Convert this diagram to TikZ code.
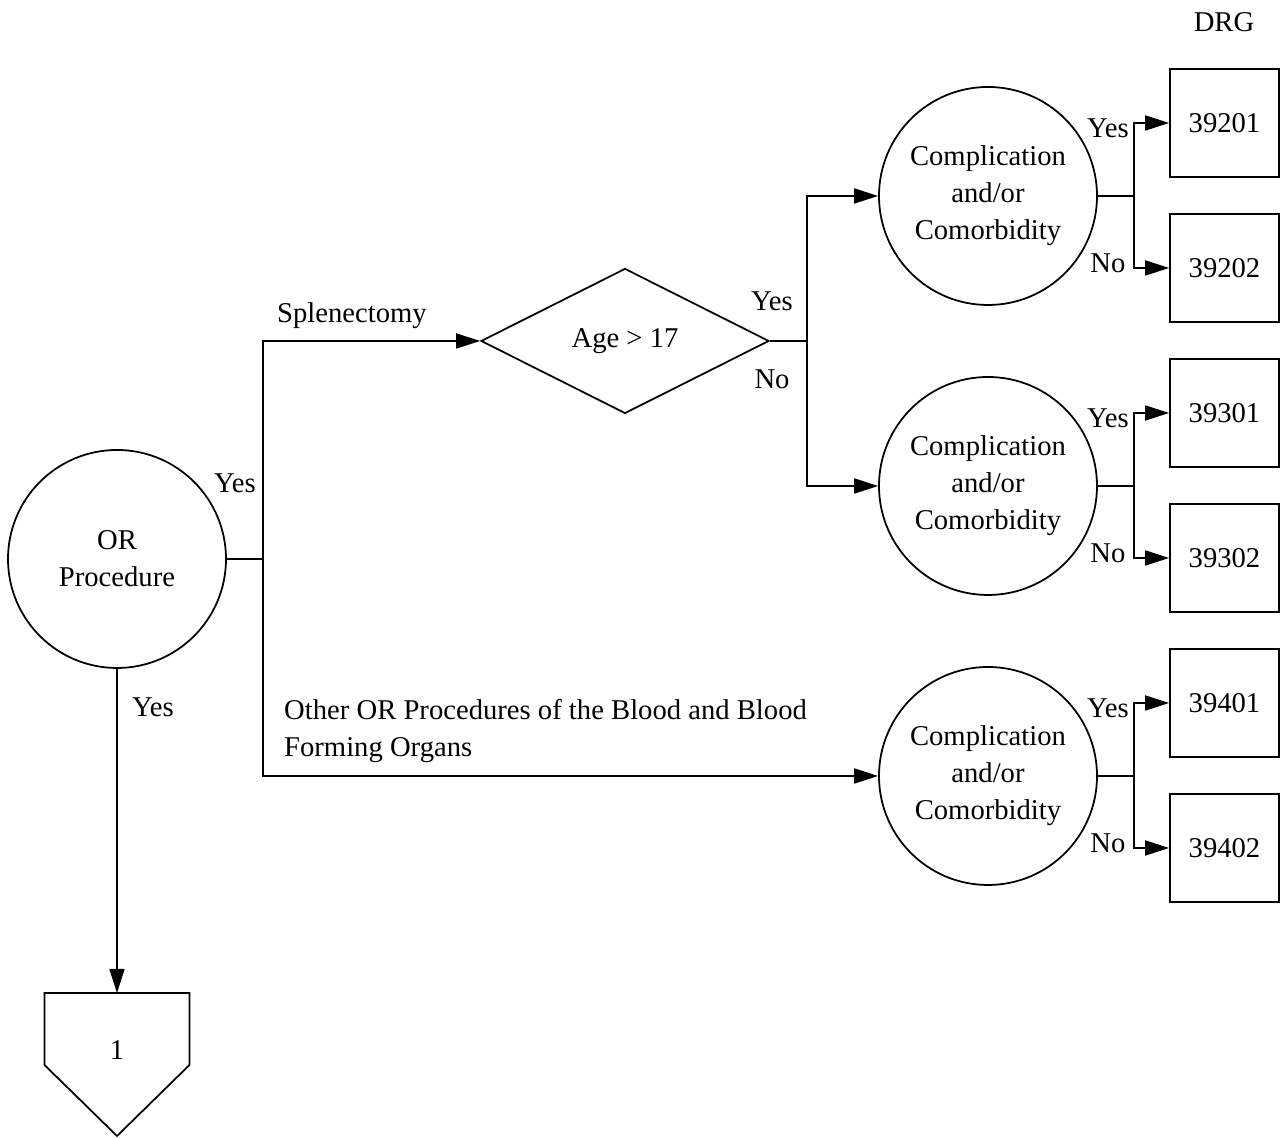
\documentclass[tikz,border=0pt]{standalone}
\usepackage{fontspec}
\setmainfont{Liberation Serif}
\usetikzlibrary{arrows.meta,positioning,shapes.geometric}

\begin{document}
\begin{tikzpicture}[
  font=\fontsize{16.3}{21}\selectfont,
  test/.style={draw, circle, line width=1pt, align=center, minimum size=4.36cm, inner sep=0pt},
  age/.style={draw, diamond, line width=1pt, minimum width=5.76cm, minimum height=2.9cm, inner sep=0pt},
  drg/.style={draw, line width=1pt, minimum width=2.18cm, minimum height=2.16cm},
  line/.style={line width=1pt},
  arrow/.style={-{Triangle[length=0.48cm, width=0.3cm]}, line width=1pt}
]
\useasboundingbox (0,0) rectangle (25.74,22.76);

\node[test] (or) at (2.34,11.58) {OR\\Procedure};
\node[age] (age) at (12.5,15.94) {Age > 17};
\node[test] (cc1) at (19.76,18.84) {Complication\\and/or\\Comorbidity};
\node[test] (cc2) at (19.76,13.04) {Complication\\and/or\\Comorbidity};
\node[test] (cc3) at (19.76,7.24) {Complication\\and/or\\Comorbidity};

\node[drg] (d39201) at (24.49,20.3) {39201};
\node[drg] (d39202) at (24.49,17.4) {39202};
\node[drg] (d39301) at (24.49,14.5) {39301};
\node[drg] (d39302) at (24.49,11.6) {39302};
\node[drg] (d39401) at (24.49,8.7) {39401};
\node[drg] (d39402) at (24.49,5.8) {39402};
\node (drg) at (24.48,22.32) {DRG};

\coordinate (j0) at ([xshift=0.72cm]or.east);
\coordinate (j1) at ([xshift=0.74cm]age.east);
\coordinate (j2) at ([xshift=0.72cm]cc1.east);
\coordinate (j3) at ([xshift=0.72cm]cc2.east);
\coordinate (j4) at ([xshift=0.72cm]cc3.east);
\coordinate (conn) at (2.34,2.9);

% first split
\draw[line] (or) -- (j0);
\draw[arrow] (j0) |- (age);
\draw[arrow] (j0) |- (cc3);
\node (yes0) at (4.7,13.1) {Yes};
\node (splen) at (7.04,16.45) {Splenectomy};
\node[anchor=west, align=left] (other) at (5.56,8.14) {Other OR Procedures of the Blood and Blood\\Forming Organs};

% age split
\draw[line] (age) -- (j1);
\draw[arrow] (j1) |- (cc1);
\draw[arrow] (j1) |- (cc2);
\node (yes1) at (15.44,16.74) {Yes};
\node (no1) at (15.44,15.18) {No};

% complication splits
\draw[line] (cc1) -- (j2);
\draw[arrow] (j2) |- (d39201);
\draw[arrow] (j2) |- (d39202);
\node (yes2) at ([xshift=-0.52cm, yshift=1.36cm]j2) {Yes};
\node (no2) at ([xshift=-0.52cm, yshift=-1.34cm]j2) {No};

\draw[line] (cc2) -- (j3);
\draw[arrow] (j3) |- (d39301);
\draw[arrow] (j3) |- (d39302);
\node (yes3) at ([xshift=-0.52cm, yshift=1.36cm]j3) {Yes};
\node (no3) at ([xshift=-0.52cm, yshift=-1.34cm]j3) {No};

\draw[line] (cc3) -- (j4);
\draw[arrow] (j4) |- (d39401);
\draw[arrow] (j4) |- (d39402);
\node (yes4) at ([xshift=-0.52cm, yshift=1.36cm]j4) {Yes};
\node (no4) at ([xshift=-0.52cm, yshift=-1.34cm]j4) {No};

% off-page connector
\draw[arrow] (or) -- (conn);
\node (yes5) at (3.06,8.62) {Yes};
\draw[line] (conn) ++(-1.45,0) -- ++(2.9,0) -- ++(0,-1.44) -- ++(-1.45,-1.42) -- ++(-1.45,1.42) -- cycle;
\node (one) at (2.34,1.76) {1};
\end{tikzpicture}
\end{document}
